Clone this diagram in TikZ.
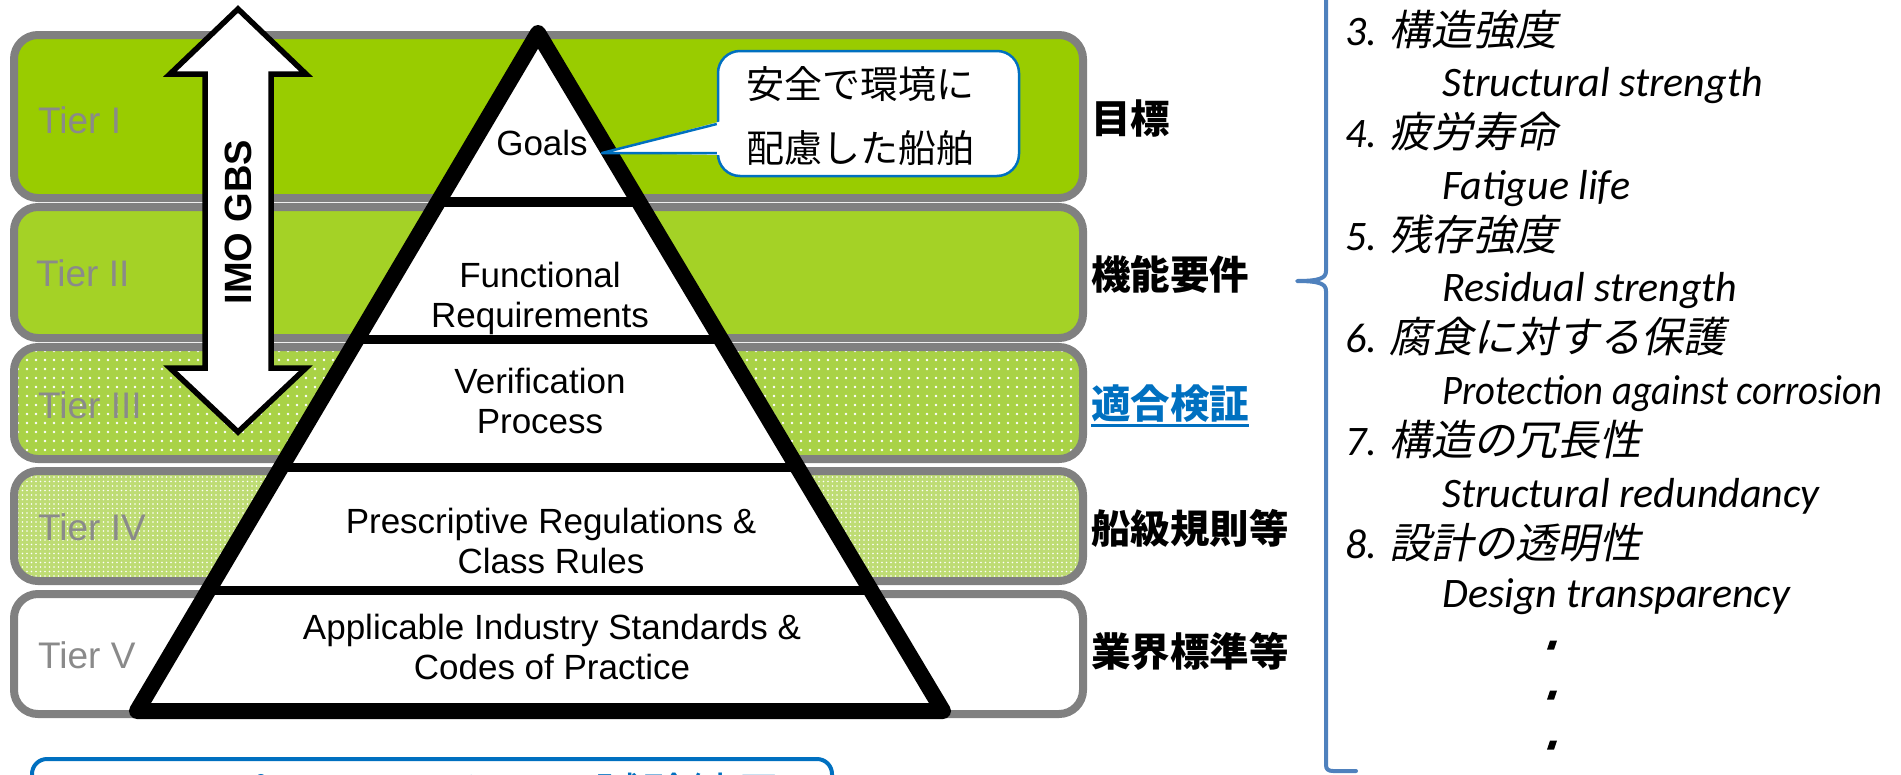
\documentclass[tikz,border=0pt]{standalone}
\usepackage{fontspec}
\setmainfont{Liberation Sans}
\newfontfamily\jp{Noto Sans CJK JP}
\newfontfamily\jpit[FakeSlant=0.2]{Noto Sans CJK JP}
\newfontfamily\carl{Carlito}
\usetikzlibrary{patterns.meta}
\definecolor{tierA}{HTML}{99CC00}
\definecolor{tierB}{HTML}{A4D226}
\definecolor{tierC}{HTML}{A9D246}
\definecolor{tierD}{HTML}{BEDC74}
\definecolor{bandgray}{HTML}{808080}
\definecolor{tiertext}{HTML}{8A8A8A}
\definecolor{nkblue}{HTML}{0070C0}
\definecolor{bracecol}{HTML}{4F81BD}
\tikzset{
  band/.style={draw=bandgray, line width=8, rounded corners=24},
  tierlbl/.style={anchor=west, text=tiertext, inner sep=0, font=\fontsize{37}{37}\selectfont},
  pyrtxt/.style={align=center, inner sep=0, font=\fontsize{35}{40}\selectfont},
  rlbl/.style={anchor=west, inner sep=0, font=\jp\bfseries\fontsize{39.5}{39.5}\selectfont},
  jpitem/.style={anchor=base west, inner sep=0, font=\fontsize{42}{42}\selectfont},
  enitem/.style={anchor=base west, inner sep=0, font=\carl\itshape\fontsize{42}{42}\selectfont},
}
\begin{document}
\begin{tikzpicture}[x=1pt,y=-1pt]
\useasboundingbox (0,0) rectangle (1901,774);
\begin{scope}
\clip (0,0) rectangle (1901,774);
% tier bands
\path[band, fill=tierA] (14,35) rectangle (1083,198);
\path[band, fill=tierB] (14,207) rectangle (1083,338);
\path[band, preaction={fill=tierC}, pattern={Dots[radius=1.3pt,distance=9pt]}, pattern color=white] (14,347) rectangle (1083,459);
\path[band, preaction={fill=tierD}, pattern={Dots[radius=0.9pt,distance=4.5pt]}, pattern color=white] (14,471) rectangle (1083,581);
\path[band, fill=white] (14,594) rectangle (1083,714);
\node[tierlbl] (t1) at (38,120) {Tier I};
\node[tierlbl] (t2) at (36,273) {Tier II};
\node[tierlbl] (t3) at (38,405) {Tier III};
\node[tierlbl] (t4) at (38,527) {Tier IV};
\node[tierlbl] (t5) at (38,655) {Tier V};
% IMO GBS double arrow
\draw[line width=5.5, fill=white, line join=miter]
  (238,9) -- (170,74) -- (205,74) -- (205,368) -- (170,368) -- (238,432)
  -- (306,368) -- (271,368) -- (271,74) -- (306,74) -- cycle;
\node[rotate=90, inner sep=0, font=\bfseries\fontsize{38}{38}\selectfont] (gbs) at (238,222) {IMO GBS};
% pyramid
\coordinate (pa) at (538,33);
\coordinate (pb) at (137,711);
\coordinate (pc) at (943,711);
\fill[white] (pa) -- (pb) -- (pc) -- cycle;
\begin{scope}
\clip (pa) -- (pb) -- (pc) -- cycle;
\draw[line width=10] (100,202) -- (1000,202);
\draw[line width=9] (100,339) -- (1000,339);
\draw[line width=9] (100,467) -- (1000,467);
\draw[line width=9] (100,590) -- (1000,590);
\end{scope}
\draw[line width=16, line join=round] (pa) -- (pb) -- (pc) -- cycle;
\node[pyrtxt] (goals) at (542,143) {Goals};
\node[pyrtxt] (fr) at (540,298) {Functional\\Requirements};
\node[pyrtxt] (vp) at (540,401) {Verification\\Process};
\node[pyrtxt] (pr) at (551,541) {Prescriptive Regulations \&\\Class Rules};
\node[pyrtxt] (ai) at (552,647) {Applicable Industry Standards \&\\Codes of Practice};
% callout
\node[draw=nkblue, line width=2.5, fill=white, rounded corners=22, minimum width=301, minimum height=125, inner sep=0] (call) at (868.5,113.5) {};
\coordinate (tip) at (602,153);
\fill[white] (722,121) -- (tip) -- (722,155) -- cycle;
\draw[nkblue, line width=2.5, line join=round] (call.west |- 0,124) -- (tip) -- (call.west |- 0,153);
\node[align=center, inner sep=0, font=\jp\fontsize{38}{64}\selectfont] (calltxt) at (860,116) {安全で環境に\\配慮した船舶};
% right labels
\node[rlbl] (l1) at (1091,119) {目標};
\node[rlbl] (l2) at (1091,274) {機能要件};
\node[rlbl, text=nkblue] (l3) at (1091,404) {適合検証};
\draw[nkblue, line width=3] (l3.west |- 0,425) -- (l3.east |- 0,425);
\node[rlbl] (l4) at (1091,528) {船級規則等};
\node[rlbl] (l5) at (1091,651) {業界標準等};
% brace
\draw[bracecol, line width=4, line cap=round, line join=round]
  (1326,-10) -- (1326,271) .. controls (1326,278) and (1320,281) .. (1297,281)
  .. controls (1320,281) and (1326,284) .. (1326,291) -- (1326,765)
  .. controls (1326,769) and (1328,771) .. (1333,771) -- (1356,771);
% list
\node[jpitem] (i3) at (1345,45) {{\carl\itshape 3. }{\jpit 構造強度}};
\node[enitem] (e3) at (1442,96) {Structural strength};
\node[jpitem] (i4) at (1345,147) {{\carl\itshape 4. }{\jpit 疲労寿命}};
\node[enitem] (e4) at (1442,199) {Fatigue life};
\node[jpitem] (i5) at (1345,250) {{\carl\itshape 5. }{\jpit 残存強度}};
\node[enitem] (e5) at (1442,301) {Residual strength};
\node[jpitem] (i6) at (1345,352) {{\carl\itshape 6. }{\jpit 腐食に対する保護}};
\node[enitem] (e6) at (1442,404) {\scalebox{0.92}[1]{Protection against corrosion}};
\node[jpitem] (i7) at (1345,455) {{\carl\itshape 7. }{\jpit 構造の冗長性}};
\node[enitem] (e7) at (1442,507) {Structural redundancy};
\node[jpitem] (i8) at (1345,558) {{\carl\itshape 8. }{\jpit 設計の透明性}};
\node[enitem] (e8) at (1442,607) {Design transparency};
% continuation dots
\foreach \dy in {645,695,745} {
  \fill (1547,\dy+4.5) -- (1554,\dy+4.5) -- (1557,\dy-4.5) -- (1550,\dy-4.5) -- cycle;
}
% bottom box (cut off)
\node[draw=nkblue, line width=4, rounded corners=15, minimum width=800, minimum height=80, inner sep=0] (bbox) at (432,799) {};
\node[anchor=base west, inner sep=0, text=nkblue, font=\jp\fontsize{47}{47}\selectfont] (btxt) at (221,812) {パイロットケース試験結果};
\end{scope}
\end{tikzpicture}
\end{document}
